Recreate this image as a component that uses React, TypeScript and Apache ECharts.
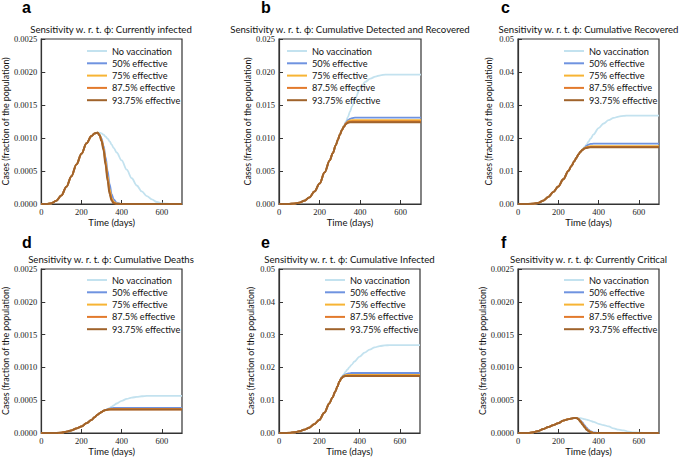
import React, { useEffect, useRef } from "react";
import * as echarts from "echarts";

const days = [0, 25, 50, 75, 100, 125, 150, 175, 200, 225, 250, 265, 280, 290, 300, 310, 320, 330, 340, 350, 360, 375, 400, 425, 450, 475, 500, 525, 550, 575, 600, 650, 700];

const seriesNames = ["No vaccination", "50% effective", "75% effective", "87.5% effective", "93.75% effective"];
const seriesColors = ["#c3e2ef", "#6f93e0", "#f7b434", "#e27a2c", "#a0632b"];

// a: Currently infected
const aNoVac = [0, 0, 0.00001, 0.00005, 0.00013, 0.00026, 0.00042, 0.0006, 0.00076, 0.00092, 0.00103, 0.00107, 0.00108, 0.00108, 0.00107, 0.00105, 0.00102, 0.00099, 0.00095, 0.0009, 0.00085, 0.00078, 0.00066, 0.00052, 0.00039, 0.00028, 0.00019, 0.00012, 0.00007, 0.00003, 0.00001, 0, 0];
const a50 = [0, 0, 0.00001, 0.00005, 0.00013, 0.00026, 0.00042, 0.0006, 0.00076, 0.00092, 0.00103, 0.00107, 0.00108, 0.00105, 0.00099, 0.00088, 0.00071, 0.0005, 0.0003, 0.00015, 0.00007, 0.00002, 0, 0, 0, 0, 0, 0, 0, 0, 0, 0, 0];
const a75 = [0, 0, 0.00001, 0.00005, 0.00013, 0.00026, 0.00042, 0.0006, 0.00076, 0.00092, 0.00103, 0.00107, 0.00108, 0.00105, 0.00097, 0.00085, 0.00065, 0.00042, 0.00022, 0.00009, 0.00003, 0.00001, 0, 0, 0, 0, 0, 0, 0, 0, 0, 0, 0];
const a875 = [0, 0, 0.00001, 0.00005, 0.00013, 0.00026, 0.00042, 0.0006, 0.00076, 0.00092, 0.00103, 0.00107, 0.00108, 0.00104, 0.00096, 0.00083, 0.00062, 0.00038, 0.00018, 0.00007, 0.00002, 0, 0, 0, 0, 0, 0, 0, 0, 0, 0, 0, 0];
const a9375 = [0, 0, 0.00001, 0.00005, 0.00013, 0.00026, 0.00042, 0.0006, 0.00076, 0.00092, 0.00103, 0.00107, 0.00108, 0.00104, 0.00095, 0.00081, 0.00059, 0.00035, 0.00015, 0.00005, 0.00001, 0, 0, 0, 0, 0, 0, 0, 0, 0, 0, 0, 0];

// b: Cumulative Detected and Recovered
const bNoVac = [0, 0, 0.00001, 0.00006, 0.0002, 0.0005, 0.001, 0.0019, 0.0031, 0.0048, 0.0066, 0.0077, 0.0089, 0.0097, 0.0105, 0.0112, 0.0119, 0.0125, 0.0132, 0.014, 0.0148, 0.016, 0.0175, 0.0185, 0.019, 0.0193, 0.0195, 0.0196, 0.0196, 0.0196, 0.0196, 0.0196, 0.0196];
const b50 = [0, 0, 0.00001, 0.00006, 0.0002, 0.0005, 0.001, 0.0019, 0.0031, 0.0048, 0.0066, 0.0077, 0.0089, 0.0097, 0.0105, 0.0112, 0.0118, 0.0123, 0.0127, 0.0129, 0.01302, 0.0131, 0.0131, 0.0131, 0.0131, 0.0131, 0.0131, 0.0131, 0.0131, 0.0131, 0.0131, 0.0131, 0.0131];
const b75 = [0, 0, 0.00001, 0.00006, 0.0002, 0.0005, 0.001, 0.0019, 0.0031, 0.0048, 0.0066, 0.0077, 0.0089, 0.0097, 0.0105, 0.0112, 0.0118, 0.0122, 0.0125, 0.01265, 0.0127, 0.0127, 0.0127, 0.0127, 0.0127, 0.0127, 0.0127, 0.0127, 0.0127, 0.0127, 0.0127, 0.0127, 0.0127];
const b875 = [0, 0, 0.00001, 0.00006, 0.0002, 0.0005, 0.001, 0.0019, 0.0031, 0.0048, 0.0066, 0.0077, 0.0089, 0.0097, 0.0105, 0.0112, 0.0117, 0.0122, 0.0124, 0.01248, 0.0125, 0.0125, 0.0125, 0.0125, 0.0125, 0.0125, 0.0125, 0.0125, 0.0125, 0.0125, 0.0125, 0.0125, 0.0125];
const b9375 = [0, 0, 0.00001, 0.00006, 0.0002, 0.0005, 0.001, 0.0019, 0.0031, 0.0048, 0.0066, 0.0077, 0.0089, 0.0097, 0.0105, 0.0112, 0.0117, 0.0121, 0.01232, 0.01238, 0.0124, 0.0124, 0.0124, 0.0124, 0.0124, 0.0124, 0.0124, 0.0124, 0.0124, 0.0124, 0.0124, 0.0124, 0.0124];

// c: Cumulative Recovered
const cNoVac = [0, 0, 0.00003, 0.0001, 0.0003, 0.001, 0.0021, 0.0036, 0.0053, 0.0075, 0.01, 0.0115, 0.013, 0.014, 0.015, 0.0158, 0.0166, 0.0172, 0.018, 0.0189, 0.0198, 0.0211, 0.023, 0.0244, 0.0254, 0.0261, 0.0265, 0.0267, 0.0268, 0.0268, 0.0268, 0.0268, 0.0268];
const c50 = [0, 0, 0.00003, 0.0001, 0.0003, 0.001, 0.0021, 0.0036, 0.0053, 0.0075, 0.01, 0.0115, 0.013, 0.014, 0.015, 0.0158, 0.0165, 0.017, 0.0176, 0.018, 0.0182, 0.0183, 0.0183, 0.0183, 0.0183, 0.0183, 0.0183, 0.0183, 0.0183, 0.0183, 0.0183, 0.0183, 0.0183];
const c75 = [0, 0, 0.00003, 0.0001, 0.0003, 0.001, 0.0021, 0.0036, 0.0053, 0.0075, 0.01, 0.0115, 0.013, 0.014, 0.015, 0.0158, 0.0165, 0.0169, 0.0172, 0.0174, 0.0175, 0.0175, 0.0175, 0.0175, 0.0175, 0.0175, 0.0175, 0.0175, 0.0175, 0.0175, 0.0175, 0.0175, 0.0175];
const c875 = [0, 0, 0.00003, 0.0001, 0.0003, 0.001, 0.0021, 0.0036, 0.0053, 0.0075, 0.01, 0.0115, 0.013, 0.014, 0.015, 0.0158, 0.0164, 0.0168, 0.0171, 0.0172, 0.0173, 0.0173, 0.0173, 0.0173, 0.0173, 0.0173, 0.0173, 0.0173, 0.0173, 0.0173, 0.0173, 0.0173, 0.0173];
const c9375 = [0, 0, 0.00003, 0.0001, 0.0003, 0.001, 0.0021, 0.0036, 0.0053, 0.0075, 0.01, 0.0115, 0.013, 0.014, 0.015, 0.0158, 0.0164, 0.0168, 0.017, 0.0171, 0.0172, 0.0172, 0.0172, 0.0172, 0.0172, 0.0172, 0.0172, 0.0172, 0.0172, 0.0172, 0.0172, 0.0172, 0.0172];

// d: Cumulative Deaths
const dNoVac = [0, 0, 0, 0, 0.000005, 0.00002, 0.00004, 0.00007, 0.0001, 0.00015, 0.0002, 0.00024, 0.00028, 0.0003, 0.00032, 0.00034, 0.000352, 0.000365, 0.00038, 0.0004, 0.00042, 0.00045, 0.00049, 0.00052, 0.00054, 0.00055, 0.00056, 0.000565, 0.000565, 0.000565, 0.000565, 0.000565, 0.000565];
const d50 = [0, 0, 0, 0, 0.000005, 0.00002, 0.00004, 0.00007, 0.0001, 0.00015, 0.0002, 0.00024, 0.00028, 0.0003, 0.00032, 0.00034, 0.000352, 0.000362, 0.000372, 0.000378, 0.000382, 0.000384, 0.000384, 0.000384, 0.000384, 0.000384, 0.000384, 0.000384, 0.000384, 0.000384, 0.000384, 0.000384, 0.000384];
const d75 = [0, 0, 0, 0, 0.000005, 0.00002, 0.00004, 0.00007, 0.0001, 0.00015, 0.0002, 0.00024, 0.00028, 0.0003, 0.00032, 0.00034, 0.00035, 0.000357, 0.000362, 0.000365, 0.000365, 0.000365, 0.000365, 0.000365, 0.000365, 0.000365, 0.000365, 0.000365, 0.000365, 0.000365, 0.000365, 0.000365, 0.000365];
const d875 = [0, 0, 0, 0, 0.000005, 0.00002, 0.00004, 0.00007, 0.0001, 0.00015, 0.0002, 0.00024, 0.00028, 0.0003, 0.00032, 0.00034, 0.00035, 0.000356, 0.00036, 0.000362, 0.000362, 0.000362, 0.000362, 0.000362, 0.000362, 0.000362, 0.000362, 0.000362, 0.000362, 0.000362, 0.000362, 0.000362, 0.000362];
const d9375 = [0, 0, 0, 0, 0.000005, 0.00002, 0.00004, 0.00007, 0.0001, 0.00015, 0.0002, 0.00024, 0.00028, 0.0003, 0.00032, 0.00034, 0.00035, 0.000355, 0.000358, 0.00036, 0.00036, 0.00036, 0.00036, 0.00036, 0.00036, 0.00036, 0.00036, 0.00036, 0.00036, 0.00036, 0.00036, 0.00036, 0.00036];

// e: Cumulative Infected
const eNoVac = [0, 0, 0.00005, 0.0002, 0.0005, 0.001, 0.0016, 0.0027, 0.004, 0.0062, 0.009, 0.0108, 0.0127, 0.0142, 0.0157, 0.017, 0.0178, 0.0186, 0.0194, 0.0201, 0.0208, 0.0218, 0.0233, 0.0245, 0.0254, 0.0261, 0.0265, 0.0267, 0.0268, 0.0268, 0.0268, 0.0268, 0.0268];
const e50 = [0, 0, 0.00005, 0.0002, 0.0005, 0.001, 0.0016, 0.0027, 0.004, 0.0062, 0.009, 0.0108, 0.0127, 0.0142, 0.0157, 0.0168, 0.0175, 0.0179, 0.0181, 0.0182, 0.0183, 0.0183, 0.0183, 0.0183, 0.0183, 0.0183, 0.0183, 0.0183, 0.0183, 0.0183, 0.0183, 0.0183, 0.0183];
const e75 = [0, 0, 0.00005, 0.0002, 0.0005, 0.001, 0.0016, 0.0027, 0.004, 0.0062, 0.009, 0.0108, 0.0127, 0.0142, 0.0157, 0.0167, 0.0173, 0.0176, 0.0177, 0.0177, 0.0177, 0.0177, 0.0177, 0.0177, 0.0177, 0.0177, 0.0177, 0.0177, 0.0177, 0.0177, 0.0177, 0.0177, 0.0177];
const e875 = [0, 0, 0.00005, 0.0002, 0.0005, 0.001, 0.0016, 0.0027, 0.004, 0.0062, 0.009, 0.0108, 0.0127, 0.0142, 0.0157, 0.0167, 0.0172, 0.0174, 0.0175, 0.0175, 0.0175, 0.0175, 0.0175, 0.0175, 0.0175, 0.0175, 0.0175, 0.0175, 0.0175, 0.0175, 0.0175, 0.0175, 0.0175];
const e9375 = [0, 0, 0.00005, 0.0002, 0.0005, 0.001, 0.0016, 0.0027, 0.004, 0.0062, 0.009, 0.0108, 0.0127, 0.0142, 0.0157, 0.0167, 0.0172, 0.0174, 0.0174, 0.0174, 0.0174, 0.0174, 0.0174, 0.0174, 0.0174, 0.0174, 0.0174, 0.0174, 0.0174, 0.0174, 0.0174, 0.0174, 0.0174];

// f: Currently Critical
const fNoVac = [0, 0, 0, 0.00001, 0.00003, 0.00006, 0.00009, 0.00012, 0.00015, 0.00019, 0.00021, 0.00022, 0.00023, 0.00023, 0.000228, 0.000225, 0.00022, 0.00021, 0.000203, 0.000195, 0.000185, 0.00017, 0.00014, 0.00012, 0.0001, 0.00007, 0.00005, 0.00004, 0.00002, 0.00001, 0.000005, 0, 0];
const f50 = [0, 0, 0, 0.00001, 0.00003, 0.00006, 0.00009, 0.00012, 0.00015, 0.00019, 0.00021, 0.00022, 0.00023, 0.00023, 0.00022, 0.00019, 0.00016, 0.00012, 0.00008, 0.00005, 0.00003, 0.00001, 0, 0, 0, 0, 0, 0, 0, 0, 0, 0, 0];
const f75 = [0, 0, 0, 0.00001, 0.00003, 0.00006, 0.00009, 0.00012, 0.00015, 0.00019, 0.00021, 0.00022, 0.00023, 0.00023, 0.00022, 0.00018, 0.00014, 0.0001, 0.00006, 0.00004, 0.00002, 0, 0, 0, 0, 0, 0, 0, 0, 0, 0, 0, 0];
const f875 = [0, 0, 0, 0.00001, 0.00003, 0.00006, 0.00009, 0.00012, 0.00015, 0.00019, 0.00021, 0.00022, 0.00023, 0.00023, 0.00021, 0.00018, 0.00014, 0.0001, 0.00006, 0.00003, 0.00001, 0, 0, 0, 0, 0, 0, 0, 0, 0, 0, 0, 0];
const f9375 = [0, 0, 0, 0.00001, 0.00003, 0.00006, 0.00009, 0.00012, 0.00015, 0.00019, 0.00021, 0.00022, 0.00023, 0.00023, 0.00021, 0.00017, 0.00013, 0.00009, 0.00005, 0.00003, 0.00001, 0, 0, 0, 0, 0, 0, 0, 0, 0, 0, 0, 0];

const panelLetters = ["a", "b", "c", "d", "e", "f"];
const panelTitles = [
  "Sensitivity w. r. t. \u03d5: Currently infected",
  "Sensitivity w. r. t. \u03d5: Cumulative Detected and Recovered",
  "Sensitivity w. r. t. \u03d5: Cumulative Recovered",
  "Sensitivity w. r. t. \u03d5: Cumulative Deaths",
  "Sensitivity w. r. t. \u03d5: Cumulative Infected",
  "Sensitivity w. r. t. \u03d5: Currently Critical",
];
const yMaxes = [0.0025, 0.025, 0.05, 0.0025, 0.05, 0.0025];
const yIntervals = [0.0005, 0.005, 0.01, 0.0005, 0.01, 0.0005];
const yDecimals = [4, 3, 2, 4, 2, 4];
const panelData = [
  [aNoVac, a50, a75, a875, a9375],
  [bNoVac, b50, b75, b875, b9375],
  [cNoVac, c50, c75, c875, c9375],
  [dNoVac, d50, d75, d875, d9375],
  [eNoVac, e50, e75, e875, e9375],
  [fNoVac, f50, f75, f875, f9375],
];

// layout (pixels)
const grids = [
  { left: 40, top: 39, width: 142, height: 165 },
  { left: 279, top: 39, width: 142, height: 165 },
  { left: 518, top: 39, width: 141, height: 165 },
  { left: 40, top: 269, width: 142, height: 165 },
  { left: 279, top: 269, width: 141, height: 165 },
  { left: 518, top: 269, width: 141, height: 165 },
];
const legendPos = [
  { left: 87, top: 45 },
  { left: 287, top: 45 },
  { left: 564, top: 45 },
  { left: 87, top: 274 },
  { left: 325, top: 274 },
  { left: 564, top: 274 },
];
const yNameGaps = [31, 26, 25, 31, 24, 25];
const letterPos = [
  { x: 22, y: 15 },
  { x: 261, y: 15 },
  { x: 501, y: 15 },
  { x: 22, y: 250 },
  { x: 261, y: 250 },
  { x: 501, y: 250 },
];

const SANS = "Lato, 'Open Sans', sans-serif";
const SERIF = "'Liberation Serif', 'DejaVu Serif', serif";
const AXIS_COLOR = "#333";

export default function App() {
  const ref = useRef<HTMLDivElement>(null);
  useEffect(() => {
    if (!ref.current) return;
    const chart = echarts.init(ref.current, undefined, { renderer: "svg" });
    const series: any[] = [];
    panelData.forEach((arrs, p) => {
      arrs.forEach((arr, s) => {
        series.push({
          type: "line",
          name: seriesNames[s],
          xAxisIndex: p,
          yAxisIndex: p,
          data: days.map((d, i) => [d, arr[i]]),
          showSymbol: false,
          smooth: 0.35,
          smoothMonotone: "x",
          color: seriesColors[s],
          lineStyle: { width: s === 4 ? 2 : 1.8, color: seriesColors[s] },
          emphasis: { disabled: true },
          z: 2 + s,
        });
      });
    });
    const graphics: any[] = [];
    grids.forEach((g, p) => {
      graphics.push({
        type: "text",
        x: g.left + g.width / 2,
        y: g.top - 10,
        style: {
          text: panelTitles[p],
          font: `9.6px ${SANS}`,
          fill: "#111",
          textAlign: "center",
          textVerticalAlign: "middle",
        },
      });
      graphics.push({
        type: "text",
        x: letterPos[p].x,
        y: letterPos[p].y,
        style: {
          text: panelLetters[p],
          font: `bold 16px 'Liberation Sans', Arial, sans-serif`,
          fill: "#000",
          textAlign: "left",
          textVerticalAlign: "bottom",
        },
      });
    });
    const option: any = {
      animation: false,
      backgroundColor: "#fff",
      grid: grids.map((g) => ({
        ...g,
        show: true,
        borderColor: AXIS_COLOR,
        borderWidth: 1.2,
        containLabel: false,
      })),
      xAxis: grids.map((_, p) => ({
        type: "value",
        gridIndex: p,
        min: 0,
        max: 700,
        interval: 200,
        name: "Time (days)",
        nameLocation: "middle",
        nameGap: 13,
        nameTextStyle: { fontFamily: SANS, fontSize: 9.5, color: "#111" },
        axisLine: { show: true, lineStyle: { color: AXIS_COLOR, width: 1.2 } },
        axisTick: { show: true, inside: true, length: 4, lineStyle: { color: AXIS_COLOR } },
        axisLabel: { fontFamily: SERIF, fontSize: 8.5, color: "#222", margin: 3, showMaxLabel: false },
        splitLine: { show: false },
      })),
      yAxis: grids.map((_, p) => ({
        type: "value",
        gridIndex: p,
        min: 0,
        max: yMaxes[p],
        interval: yIntervals[p],
        name: "Cases (fraction of the population)",
        nameLocation: "middle",
        nameGap: yNameGaps[p],
        nameRotate: 90,
        nameTextStyle: { fontFamily: SANS, fontSize: 8.8, color: "#111" },
        axisLine: { show: true, lineStyle: { color: AXIS_COLOR, width: 1.2 } },
        axisTick: { show: true, inside: true, length: 4, lineStyle: { color: AXIS_COLOR } },
        axisLabel: {
          fontFamily: SERIF,
          fontSize: 8.5,
          color: "#222",
          margin: 4,
          formatter: (v: number) => v.toFixed(yDecimals[p]),
        },
        splitLine: { show: false },
      })),
      legend: legendPos.map((lp) => ({
        orient: "vertical",
        left: lp.left,
        top: lp.top,
        data: seriesNames,
        icon: "rect",
        itemWidth: 20,
        itemHeight: 2,
        itemGap: 0.3,
        selectedMode: false,
        padding: 0,
        textStyle: { fontFamily: SANS, fontSize: 9.2, color: "#111", lineHeight: 12, padding: [0, 0, 0, 0] },
      })),
      graphic: graphics,
      series,
    };
    chart.setOption(option);
    return () => chart.dispose();
  }, []);
  return (
    <div
      ref={ref}
      style={{ position: "fixed", left: 0, top: 0, width: 685, height: 457, background: "#fff" }}
    />
  );
}
